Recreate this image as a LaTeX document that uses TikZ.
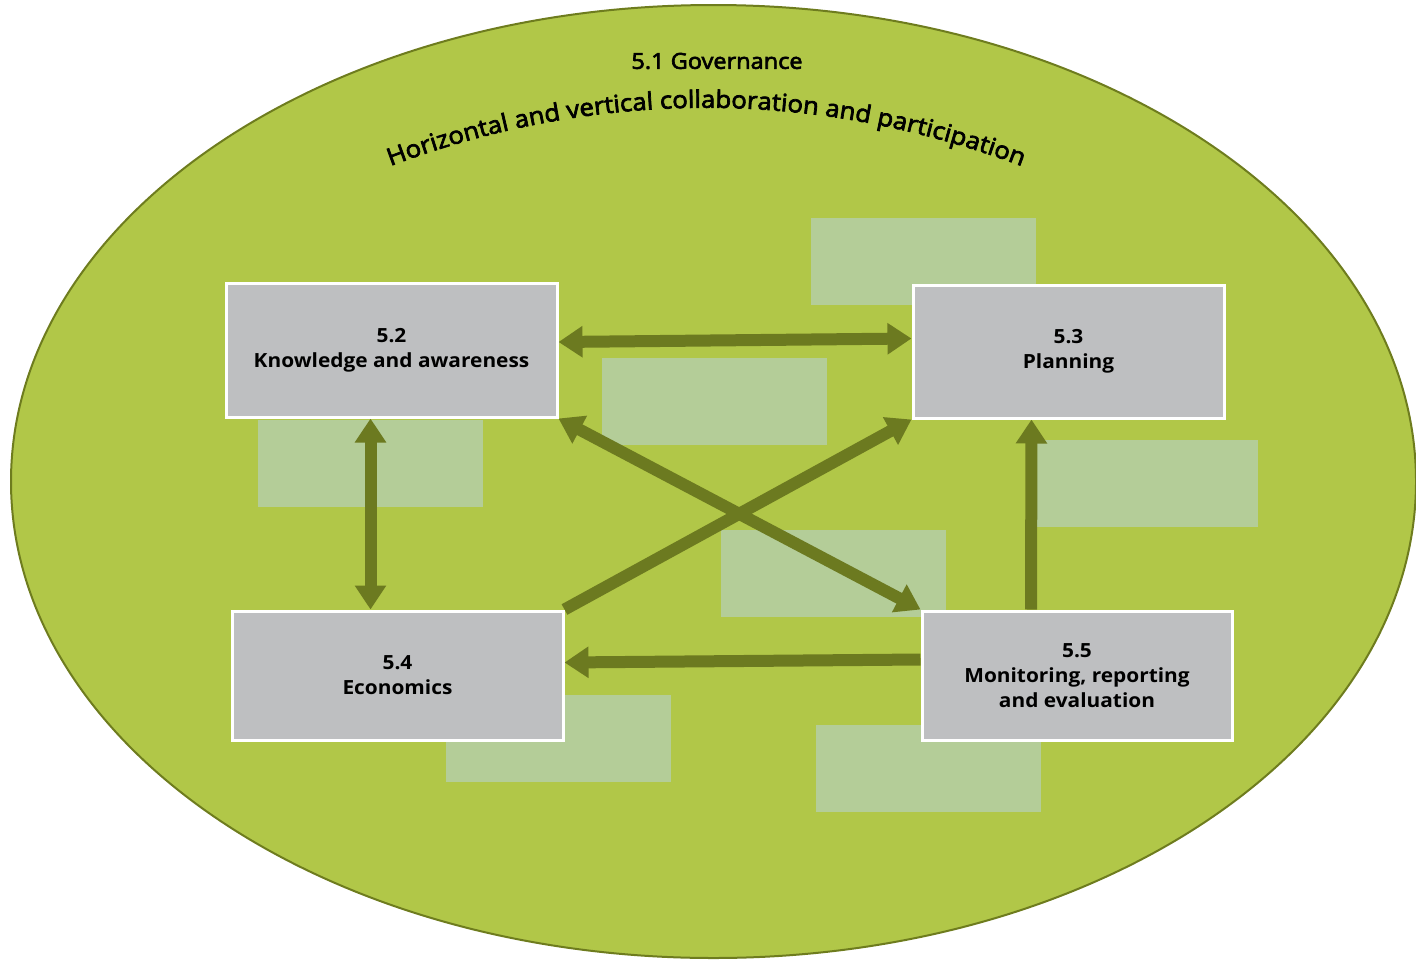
\documentclass[tikz,border=0pt]{standalone}
\usepackage{fontspec}
\setmainfont{Open Sans}[FakeStretch=1.07]
\newfontfamily\govfont{Open Sans}[FakeStretch=1.07, FakeBold=3]
\usetikzlibrary{positioning,arrows.meta,decorations.text,backgrounds}
\definecolor{govgreen}{HTML}{B1C748}
\definecolor{govedge}{HTML}{6E7C1E}
\definecolor{linkolive}{HTML}{6C7A20}
\definecolor{palegreen}{HTML}{B4CD98}
\definecolor{topicgray}{HTML}{BEBFC1}
\tikzset{
	topic/.style={rectangle, fill=topicgray, draw=white, line width=3pt, align=center, inner sep=0pt, font=\fontsize{19.5}{25}\selectfont\bfseries},
	patch/.style={fill=palegreen},
	link/.style={linkolive, line width=12pt, -{Triangle[width=30pt,length=24pt]}},
	twoway/.style={link, {Triangle[width=30pt,length=24pt]}-{Triangle[width=30pt,length=24pt]}}
}

\begin{document}
\begin{tikzpicture}[x=1pt,y=-1pt]
	\pgfmathsetmacro{\PatchW}{225}
	\pgfmathsetmacro{\PatchH}{87}
	\useasboundingbox (0,0) rectangle (1416,959);
	% BACKGROUND
	\begin{scope}[on background layer]
		\draw[govedge, fill=govgreen, line width=2pt] (713.5,481.5) ellipse [x radius=702.5, y radius=476.5];
		\foreach \px/\py in {811/218, 602/358, 258/420, 1033/440, 721/530, 446/695, 816/725}
			\fill[patch] (\px,\py) rectangle ++(\PatchW,\PatchH);
	\end{scope}
	% TITLE
	\node[font=\govfont\fontsize{22}{26}\selectfont] (gov) at (717,61) {5.1 Governance};
	\path[decorate, decoration={text along path, text align=center,
		text={|\govfont\fontsize{24}{28}\selectfont|Horizontal and vertical collaboration and participation}}]
		(388,167) .. controls (596,88) and (816,88) .. (1024,167);
	% BOXES
	\node[topic, minimum width=331pt, minimum height=134pt] (know) at (391.5,350) {5.2\\Knowledge and awareness};
	\node[topic, minimum width=311pt, minimum height=133pt] (plan) at (1068.5,351.5) {5.3\\Planning};
	\node[topic, minimum width=331pt, minimum height=129pt] (econ) at (397.5,675.5) {5.4\\Economics};
	\node[topic, minimum width=310pt, minimum height=129pt] (moni) at (1077,675.5) {5.5\\Monitoring, reporting\\and evaluation};
	% ARROWS
	\begin{scope}[on background layer]
		\draw[twoway] ([yshift=8pt]know.east) -- ([yshift=13pt]plan.west);
		\draw[twoway] ([xshift=-21pt]know.south) -- ([xshift=-27pt]econ.north);
		\draw[twoway] (know.south east) -- (moni.north west);
		\draw[link] (econ.north east) -- (plan.south west);
		\draw[link] ([yshift=16pt]moni.west) -- ([yshift=13pt]econ.east);
		\draw[link] ([xshift=-46pt]moni.north) -- ([xshift=-37pt]plan.south);
	\end{scope}
\end{tikzpicture}
\end{document}
